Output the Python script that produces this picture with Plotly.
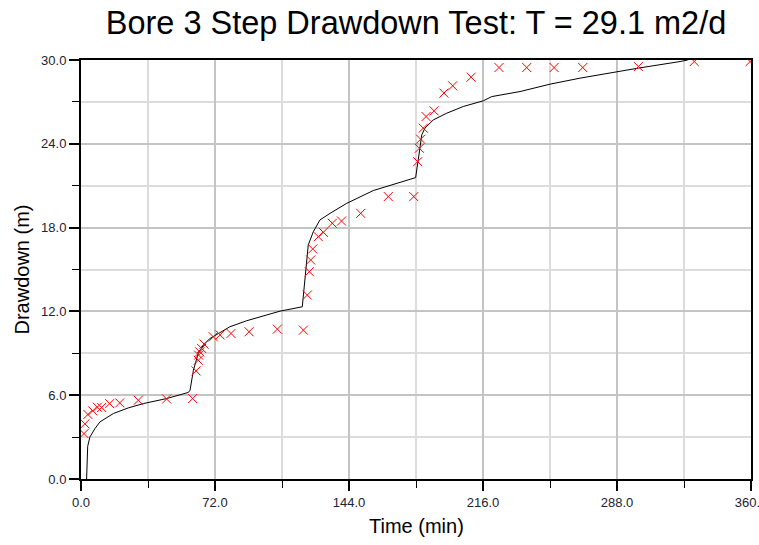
import plotly.graph_objects as go

# Observed drawdown (red crosses)
obs_time = [1.6, 2.1, 3.7, 6.3, 8.8, 11.1, 15.4, 20.8, 30.8, 46.0, 60.0,
            61.8, 63.0, 63.2, 63.8, 64.8, 66.1, 71.1, 74.7, 80.6, 90.3, 105.5, 119.5,
            121.6, 122.7, 123.4, 124.5, 127.5, 130.2, 135.0, 140.0, 150.3, 165.1, 178.8,
            180.9, 181.8, 182.5, 183.9, 185.4, 189.7, 195.0, 199.7, 209.6, 224.6, 239.5,
            254.2, 269.6, 299.5, 329.5, 359.5]
obs_drawdown = [3.25, 3.95, 4.62, 4.88, 5.14, 5.12, 5.40, 5.45, 5.64, 5.73, 5.76,
                7.74, 8.50, 8.87, 9.10, 9.35, 9.66, 10.18, 10.32, 10.42, 10.54, 10.73, 10.66,
                13.17, 14.84, 15.68, 16.47, 17.35, 17.66, 18.31, 18.47, 19.02, 20.22, 20.22,
                22.72, 23.68, 24.33, 25.12, 25.95, 26.36, 27.63, 28.15, 28.77, 29.46, 29.46,
                29.46, 29.46, 29.53, 29.89, 29.89]

# Model (Theis) curve
model_time = [3.0, 3.3, 3.6, 4.8, 7.5, 10.2, 17.4, 25.4, 33.5, 46.0, 57.7,
              58.6, 60.4, 63.0, 65.7, 69.3, 74.7, 80.0, 89.0, 98.0, 107.0, 118.9,
              120.4, 121.6, 122.1, 124.8, 128.4, 133.8, 142.8, 157.0, 176.8, 179.8,
              181.2, 183.1, 184.8, 189.3, 196.5, 205.4, 216.2, 220.7, 235.9, 252.0,
              268.1, 275.3, 299.5, 321.9, 326.0]
model_drawdown = [0.0, 1.2, 2.34, 3.01, 3.61, 4.09, 4.69, 5.09, 5.40, 5.76, 6.20,
                  6.36, 7.79, 8.99, 9.58, 10.06, 10.49, 10.90, 11.33, 11.68, 12.02, 12.33,
                  14.24, 15.68, 16.75, 17.70, 18.55, 19.02, 19.74, 20.65, 21.41, 21.58,
                  22.85, 24.64, 25.12, 25.71, 26.19, 26.67, 27.08, 27.38, 27.74, 28.27,
                  28.70, 28.87, 29.42, 29.89, 30.0]

x_ticks = [0, 72, 144, 216, 288, 360]
y_ticks = [0, 6, 12, 18, 24, 30]

FONT = "Liberation Sans, Arial, sans-serif"

fig = go.Figure()
fig.add_trace(go.Scatter(
    x=model_time, y=model_drawdown, mode="lines",
    line=dict(color="black", width=1), showlegend=False, hoverinfo="skip"))
fig.add_trace(go.Scatter(
    x=obs_time, y=obs_drawdown, mode="markers",
    marker=dict(symbol="x-thin", size=9, line=dict(color="#ff0000", width=1)),
    showlegend=False))

axis_common = dict(
    showline=True, linecolor="black", linewidth=2, mirror=True,
    ticks="outside", ticklen=10, tickwidth=2, tickcolor="black",
    showgrid=True, gridcolor="#c4c4c4", gridwidth=2,
    zeroline=False, automargin=False, ticklabeloverflow="allow",
    tickfont=dict(family=FONT, size=13, color="#222233"),
)

fig.update_xaxes(
    range=[0, 360], tickvals=x_ticks, ticktext=[f"{v:.1f}" for v in x_ticks],
    minor=dict(dtick=36, tick0=0, ticks="outside", ticklen=7, tickwidth=1,
               tickcolor="black", showgrid=True, gridcolor="#dcdcdc", gridwidth=2),
    **axis_common)
fig.update_yaxes(
    range=[0, 30], tickvals=y_ticks, ticktext=[f"{v:.1f}" for v in y_ticks],
    minor=dict(dtick=3, tick0=0, ticks="outside", ticklen=7, tickwidth=1,
               tickcolor="black", showgrid=True, gridcolor="#dcdcdc", gridwidth=2),
    **axis_common)

W, H = 759, 545
fig.update_layout(
    width=W, height=H,
    margin=dict(l=81, r=8, t=60, b=66),
    paper_bgcolor="white", plot_bgcolor="white",
    title=dict(text="Bore 3 Step Drawdown Test: T = 29.1 m2/d",
               x=0.5, xref="paper", xanchor="center",
               y=1 - 22.5 / H, yref="container", yanchor="middle",
               font=dict(family=FONT, size=32.5, color="black")),
    annotations=[
        dict(text="Time (min)", xref="paper", yref="paper", x=0.5, y=-47 / 419,
             xanchor="center", yanchor="middle", showarrow=False,
             font=dict(family=FONT, size=20, color="black")),
        dict(text="Drawdown (m)", xref="paper", yref="paper", x=-60 / 670, y=0.5,
             xanchor="center", yanchor="middle", showarrow=False, textangle=-90,
             font=dict(family=FONT, size=20, color="black")),
    ],
)

fig.write_html(
    "out.html",
    config={"displayModeBar": False},
    post_script="document.body.style.margin='0';document.body.style.overflow='hidden';",
)
